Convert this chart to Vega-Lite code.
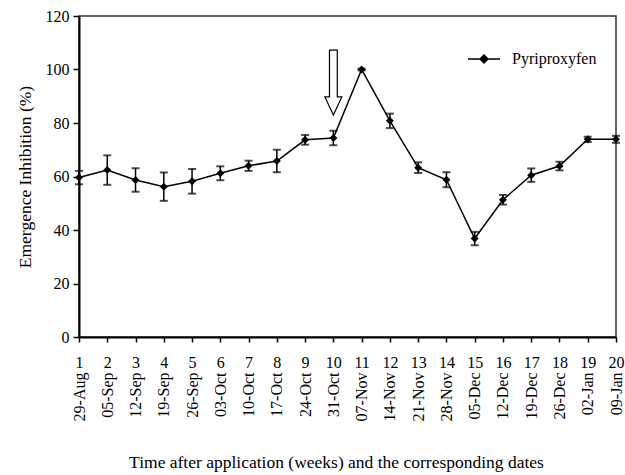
{
  "$schema": "https://vega.github.io/schema/vega-lite/v6.json",
  "width": 537,
  "height": 321,
  "autosize": "none",
  "padding": {"left": 79, "top": 16, "right": 9, "bottom": 138},
  "background": "white",
  "config": {
    "view": {"stroke": "#333333", "strokeWidth": 1.5},
    "font": "Liberation Serif",
    "style": {
      "guide-title": {"font": "Liberation Serif", "fontWeight": "normal"},
      "guide-label": {"font": "Liberation Serif"}
    },
    "axis": {
      "labelFont": "Liberation Serif",
      "titleFont": "Liberation Serif",
      "labelFontSize": 16,
      "titleFontSize": 17.5,
      "titleFontWeight": "normal",
      "labelColor": "black",
      "titleColor": "black",
      "domainColor": "black",
      "tickColor": "black",
      "domainWidth": 2,
      "tickWidth": 1.5,
      "grid": false
    },
    "legend": {"labelFont": "Liberation Serif", "labelFontSize": 16, "labelColor": "black"}
  },
  "data": {
    "values": [
      {"week": 1, "v": 59.6, "e": 2.5, "series": "Pyriproxyfen"},
      {"week": 2, "v": 62.4, "e": 5.5, "series": "Pyriproxyfen"},
      {"week": 3, "v": 58.7, "e": 4.4, "series": "Pyriproxyfen"},
      {"week": 4, "v": 56.2, "e": 5.3, "series": "Pyriproxyfen"},
      {"week": 5, "v": 58.2, "e": 4.6, "series": "Pyriproxyfen"},
      {"week": 6, "v": 61.2, "e": 2.6, "series": "Pyriproxyfen"},
      {"week": 7, "v": 64.0, "e": 1.9, "series": "Pyriproxyfen"},
      {"week": 8, "v": 65.8, "e": 4.2, "series": "Pyriproxyfen"},
      {"week": 9, "v": 73.7, "e": 1.8, "series": "Pyriproxyfen"},
      {"week": 10, "v": 74.4, "e": 2.7, "series": "Pyriproxyfen"},
      {"week": 11, "v": 100, "e": 0.3, "series": "Pyriproxyfen"},
      {"week": 12, "v": 80.8, "e": 2.7, "series": "Pyriproxyfen"},
      {"week": 13, "v": 63.3, "e": 2.0, "series": "Pyriproxyfen"},
      {"week": 14, "v": 58.8, "e": 2.8, "series": "Pyriproxyfen"},
      {"week": 15, "v": 36.8, "e": 2.5, "series": "Pyriproxyfen"},
      {"week": 16, "v": 51.3, "e": 1.8, "series": "Pyriproxyfen"},
      {"week": 17, "v": 60.5, "e": 2.5, "series": "Pyriproxyfen"},
      {"week": 18, "v": 63.9, "e": 1.6, "series": "Pyriproxyfen"},
      {"week": 19, "v": 73.9, "e": 1.0, "series": "Pyriproxyfen"},
      {"week": 20, "v": 73.9, "e": 1.3, "series": "Pyriproxyfen"}
    ]
  },
  "resolve": {"axis": {"x": "independent"}},
  "layer": [
    {
      "mark": {"type": "line", "strokeWidth": 1.5},
      "encoding": {
        "x": {
          "field": "week", "type": "quantitative",
          "scale": {"domain": [1, 20], "nice": false, "zero": false},
          "axis": {
            "orient": "bottom",
            "values": [1,2,3,4,5,6,7,8,9,10,11,12,13,14,15,16,17,18,19,20],
            "format": "d", "title": null, "tickSize": 5, "labelPadding": 12,
            "labelFlush": false, "labelOverlap": false
          }
        },
        "y": {
          "field": "v", "type": "quantitative",
          "title": "Emergence Inhibition (%)",
          "scale": {"domain": [0, 120], "nice": false},
          "axis": {
            "values": [0, 20, 40, 60, 80, 100, 120],
            "titleFont": "Liberation Serif",
            "tickSize": 6, "labelPadding": 4, "titlePadding": 11
          }
        },
        "color": {
          "field": "series", "type": "nominal",
          "scale": {"range": ["black"]},
          "legend": {
            "title": null, "orient": "none", "legendX": 388, "legendY": 26,
            "padding": 0, "symbolSize": 1024, "labelOffset": 11,
            "labelFont": "Liberation Serif", "labelFontSize": 16, "labelColor": "black",
            "symbolType": "M-1,0L1,0M-0.25,0L0,-0.25L0.25,0L0,0.25Z",
            "symbolStrokeColor": "black", "symbolFillColor": "black", "symbolStrokeWidth": 1.5,
            "encode": {"symbols": {"update": {"stroke": {"value": "black"}, "strokeWidth": {"value": 1.5}, "fill": {"value": "black"}, "opacity": {"value": 1}}}}
          }
        }
      }
    },
    {
      "mark": {"type": "errorbar", "ticks": {"size": 8, "thickness": 2, "color": "black"}, "rule": {"strokeWidth": 1.5, "color": "black"}},
      "encoding": {
        "x": {"field": "week", "type": "quantitative", "axis": null},
        "y": {"field": "v", "type": "quantitative", "title": "Emergence Inhibition (%)"},
        "yError": {"field": "e"}
      }
    },
    {
      "mark": {"type": "point", "shape": "diamond", "filled": true, "size": 64, "opacity": 1, "color": "black"},
      "encoding": {
        "x": {
          "field": "week", "type": "quantitative",
          "title": "Time after application  (weeks) and the corresponding dates",
          "axis": {
            "orient": "bottom",
            "values": [1,2,3,4,5,6,7,8,9,10,11,12,13,14,15,16,17,18,19,20],
            "labelExpr": "['29-Aug','05-Sep','12-Sep','19-Sep','26-Sep','03-Oct','10-Oct','17-Oct','24-Oct','31-Oct','07-Nov','14-Nov','21-Nov','28-Nov','05-Dec','12-Dec','19-Dec','26-Dec','02-Jan','09-Jan'][datum.value - 1]",
            "labelAngle": -90, "labelAlign": "right", "labelBaseline": "middle",
            "domain": false, "ticks": false, "tickSize": 0, "labelPadding": 35,
            "labelFlush": false, "labelOverlap": false,
            "titleFont": "Liberation Serif",
            "titlePadding": 33, "titleX": 257
          }
        },
        "y": {"field": "v", "type": "quantitative", "title": "Emergence Inhibition (%)"}
      }
    },
    {
      "data": {"values": [{"week": 10, "v": 95.1}]},
      "mark": {
        "type": "point", "filled": true, "fill": "white", "stroke": "black", "strokeWidth": 1.2, "opacity": 1, "size": 4225,
        "shape": "M-0.12,-1L0.12,-1L0.12,0.44L0.26,0.44L0,1L-0.26,0.44L-0.12,0.44Z"
      },
      "encoding": {
        "x": {"field": "week", "type": "quantitative", "axis": null},
        "y": {"field": "v", "type": "quantitative", "title": "Emergence Inhibition (%)"}
      }
    }
  ]
}
